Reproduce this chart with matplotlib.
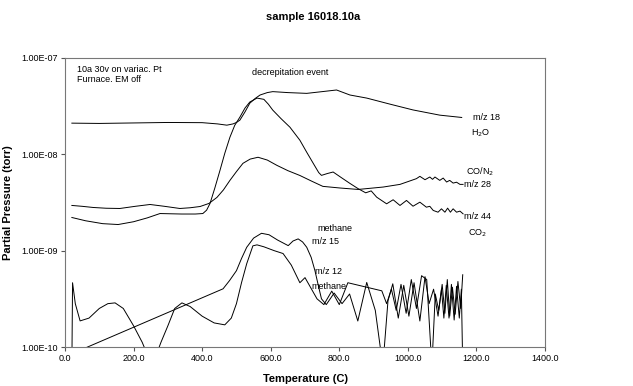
import numpy as np
import matplotlib
matplotlib.use('Agg')
import matplotlib.pyplot as plt

plt.rcParams['font.family'] = ['Liberation Sans', 'DejaVu Sans']

# --- datos (exponentes log10 de la presion, torr) ---

# m/z 18 (H2O)
t_h2o = [20, 100, 200, 300, 400, 445, 472, 490, 500, 510, 525, 539, 555, 569,
         590, 606, 650, 705, 750, 792, 831, 880, 948, 1015, 1093, 1157]
lg_h2o = [-7.677, -7.68, -7.675, -7.67, -7.672, -7.685, -7.698, -7.685, -7.67,
          -7.646, -7.56, -7.47, -7.42, -7.385, -7.36, -7.35, -7.36, -7.368,
          -7.35, -7.333, -7.385, -7.417, -7.48, -7.54, -7.594, -7.618]

# m/z 44 (CO2)
t_co2 = [20, 60, 110, 155, 200, 240, 277, 340, 380, 402, 413, 423, 437, 452,
         466, 481, 495, 510, 525, 539, 560, 580, 593, 606, 630, 656, 685, 705,
         725, 740, 748, 765, 782, 805, 830, 855, 877, 893, 909, 938, 957, 977,
         996, 1015, 1035, 1054, 1064, 1074, 1088, 1098, 1108, 1116, 1124, 1132,
         1142, 1152, 1161]
lg_co2 = [-8.656, -8.69, -8.72, -8.729, -8.70, -8.66, -8.615, -8.62, -8.62,
          -8.615, -8.58, -8.51, -8.35, -8.167, -7.99, -7.823, -7.70, -7.615,
          -7.52, -7.458, -7.417, -7.43, -7.48, -7.542, -7.63, -7.719, -7.854,
          -7.979, -8.10, -8.19, -8.219, -8.20, -8.184, -8.24, -8.30, -8.357,
          -8.40, -8.38, -8.445, -8.514, -8.472, -8.531, -8.479, -8.539, -8.497,
          -8.549, -8.54, -8.583, -8.601, -8.566, -8.601, -8.559, -8.601, -8.566,
          -8.601, -8.59, -8.618]

# m/z 28 (CO/N2)
t_co = [20, 50, 82, 120, 160, 205, 248, 290, 335, 365, 394, 420, 443, 462, 481,
        500, 519, 540, 563, 590, 618, 650, 685, 720, 752, 802, 855, 928, 977,
        1025, 1035, 1050, 1064, 1072, 1079, 1093, 1103, 1113, 1122, 1132, 1142,
        1152, 1161]
lg_co = [-8.531, -8.54, -8.552, -8.56, -8.5625, -8.54, -8.521, -8.54, -8.5625,
         -8.555, -8.542, -8.51, -8.448, -8.37, -8.271, -8.18, -8.094, -8.05,
         -8.031, -8.06, -8.115, -8.17, -8.22, -8.28, -8.333, -8.35, -8.365,
         -8.34, -8.3125, -8.253, -8.229, -8.264, -8.236, -8.26, -8.236, -8.271,
         -8.247, -8.288, -8.271, -8.299, -8.29, -8.3125, -8.3125]

# m/z 15 (metano)
t_m15 = [20, 461, 480, 500, 515, 530, 550, 573, 595, 620, 651, 665, 680, 693,
         705, 718, 729, 740, 748, 762, 785, 808, 830, 854, 880, 905, 927, 942,
         956, 972, 988, 1003, 1018, 1035, 1050, 1062, 1075, 1088, 1098, 1105,
         1112, 1120, 1127, 1135, 1142, 1150, 1156, 1160]
lg_m15 = [-10.07, -9.396, -9.31, -9.208, -9.08, -8.965, -8.87, -8.82, -8.835,
          -8.89, -8.948, -8.90, -8.878, -8.91, -8.965, -9.07, -9.208, -9.38,
          -9.5, -9.56, -9.44, -9.55, -9.45, -9.73, -9.33, -9.62, -10.2, -9.52,
          -9.344, -9.70, -9.36, -9.68, -9.333, -9.73, -9.27, -9.55, -9.40,
          -9.68, -9.40, -9.70, -9.36, -9.70, -9.35, -9.72, -9.37, -9.70, -9.40,
          -10.2]

# m/z 12 (metano)
t_m12 = [20, 22, 30, 44, 70, 100, 125, 146, 170, 200, 225, 245, 262, 280, 300,
         320, 341, 365, 400, 435, 466, 485, 500, 515, 530, 548, 560, 580, 610,
         636, 660, 685, 700, 735, 755, 778, 800, 825, 924, 938, 952, 966, 980,
         995, 1010, 1025, 1040, 1055, 1070, 1080, 1090, 1100, 1108, 1115, 1122,
         1130, 1138, 1146, 1154, 1160]
lg_m12 = [-10.2, -9.333, -9.55, -9.729, -9.70, -9.60, -9.55, -9.542, -9.60,
          -9.78, -9.95, -10.12, -10.12, -9.95, -9.78, -9.60, -9.542, -9.58,
          -9.68, -9.75, -9.77, -9.70, -9.55, -9.33, -9.135, -8.95, -8.94, -8.96,
          -9.00, -9.03, -9.15, -9.333, -9.28, -9.5, -9.56, -9.42, -9.56, -9.333,
          -9.417, -9.55, -9.40, -9.62, -9.35, -9.65, -9.30, -9.60, -9.26, -9.30,
          -10.2, -9.45, -9.62, -9.35, -9.65, -9.30, -9.68, -9.38, -9.66, -9.32,
          -9.60, -9.25]

x_ticks = [0, 200, 400, 600, 800, 1000, 1200, 1400]
y_ticks = [1e-10, 1e-9, 1e-8, 1e-7]
y_tick_labels = ['1.00E-10', '1.00E-09', '1.00E-08', '1.00E-07']

# --- grafico ---
fig = plt.figure(figsize=(6.33, 3.86), dpi=100)
ax = fig.add_axes([0.1027, 0.101, 0.7583, 0.749])

series = [(t_h2o, lg_h2o), (t_co2, lg_co2), (t_co, lg_co),
          (t_m15, lg_m15), (t_m12, lg_m12)]
for t, lg in series:
    ax.plot(t, 10.0 ** np.array(lg), color='black', linewidth=0.7)

ax.set_yscale('log')
ax.set_xlim(0, 1400)
ax.set_ylim(1e-10, 1e-7)
ax.set_xticks(x_ticks)
ax.set_xticklabels(['%.1f' % v for v in x_ticks])
ax.set_yticks(y_ticks)
ax.set_yticklabels(y_tick_labels)
ax.minorticks_off()
ax.tick_params(labelsize=6.5, length=3, width=0.8, color='#555555', pad=2)
for s in ax.spines.values():
    s.set_color('#777777')
    s.set_linewidth(0.8)

ax.set_xlabel('Temperature (C)', fontsize=8, fontweight='bold', labelpad=8)
ax.set_ylabel('Partial Pressure (torr)', fontsize=8, fontweight='bold', labelpad=6)
fig.text(0.495, 0.955, 'sample 16018.10a', ha='center', va='center',
         fontsize=8, fontweight='bold')

# anotaciones
fs = 6.5
ax.text(0.025, 0.975, '10a 30v on variac. Pt\nFurnace. EM off',
        transform=ax.transAxes, ha='left', va='top', fontsize=fs, linespacing=1.1)
ax.text(0.47, 0.95, 'decrepitation event', transform=ax.transAxes,
        ha='center', va='center', fontsize=fs)
ax.text(1190, 10 ** -7.615, 'm/z 18', ha='left', va='center', fontsize=fs)
ax.text(1185, 10 ** -7.78, 'H$_2$O', ha='left', va='center', fontsize=fs)
ax.text(1170, 10 ** -8.18, 'CO/N$_2$', ha='left', va='center', fontsize=fs)
ax.text(1165, 10 ** -8.31, 'm/z 28', ha='left', va='center', fontsize=fs)
ax.text(1165, 10 ** -8.65, 'm/z 44', ha='left', va='center', fontsize=fs)
ax.text(1175, 10 ** -8.82, 'CO$_2$', ha='left', va='center', fontsize=fs)
ax.text(735, 10 ** -8.77, 'methane', ha='left', va='center', fontsize=fs)
ax.text(720, 10 ** -8.905, 'm/z 15', ha='left', va='center', fontsize=fs)
ax.text(730, 10 ** -9.22, 'm/z 12', ha='left', va='center', fontsize=fs)
ax.text(720, 10 ** -9.37, 'methane', ha='left', va='center', fontsize=fs)

fig.savefig('out.png', dpi=100)
